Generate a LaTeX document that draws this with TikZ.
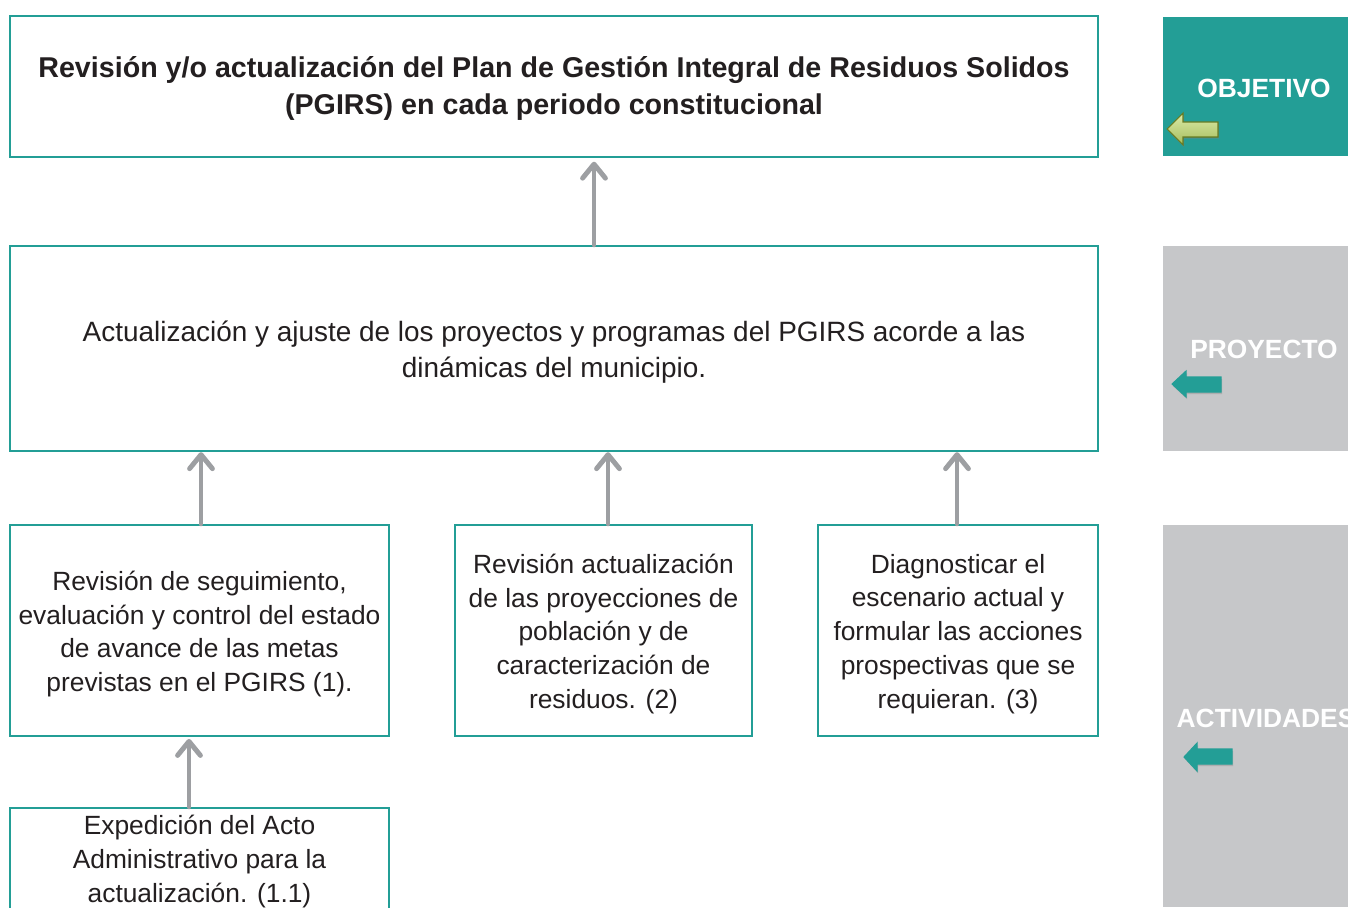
\documentclass[tikz,border=0pt]{standalone}
\usepackage{fontspec}
\setmainfont{Liberation Sans}
\usetikzlibrary{arrows.meta,shadows}
\definecolor{teal1}{RGB}{35,158,150}
\definecolor{panelgray}{RGB}{198,199,201}
\definecolor{arrgray}{RGB}{157,159,162}
\definecolor{txt}{RGB}{35,31,32}
\definecolor{lgreen}{RGB}{196,222,110}
\definecolor{dgreen}{RGB}{105,125,35}
\tikzset{
  box/.style={draw=teal1, line width=1.3pt, fill=white, inner sep=0pt},
  btext/.style={align=center, text=txt, inner sep=0pt, font=\fontsize{15}{19.3}\selectfont},
  upar/.style={draw=arrgray, line width=2.8pt, line cap=round, line join=round,
    -{Straight Barb[length=8pt,width=13pt,line width=2.8pt,round]}},
  ptext/.style={text=white, font=\bfseries\fontsize{15}{18}\selectfont, inner sep=0pt},
  blockarr/.style={line width=0.6pt, drop shadow={shadow xshift=0.6pt, shadow yshift=-1.2pt, opacity=0.35}},
}
\begin{document}
\begin{tikzpicture}[x=0.02cm,y=-0.02cm]
\useasboundingbox (0,0) rectangle (1348,907);
% panels
\fill[teal1] (1163,17) rectangle (1348,156);
\fill[panelgray] (1163,246) rectangle (1348,451);
\fill[panelgray] (1163,525) rectangle (1348,907);
\node[ptext] (pobj) at (1264,88) {OBJETIVO};
\node[ptext] (pproy) at (1264,349) {PROYECTO};
\begin{scope}
\clip (1163,525) rectangle (1348,907);
\node[ptext] (pact) at (1266,718) {ACTIVIDADES};
\end{scope}
% block arrows
\filldraw[blockarr, draw=dgreen, top color=lgreen!60!white, bottom color=lgreen!85!black]
  (1167,129) -- (1183,113) -- (1183,122) -- (1218,122) -- (1218,137) -- (1183,137) -- (1183,145) -- cycle;
\filldraw[blockarr, draw=teal1, fill=teal1]
  (1172,384) -- (1186,371) -- (1186,377) -- (1221,377) -- (1221,392) -- (1186,392) -- (1186,397) -- cycle;
\filldraw[blockarr, draw=teal1, fill=teal1]
  (1184,757) -- (1197,743) -- (1197,749) -- (1232,749) -- (1232,764) -- (1197,764) -- (1197,771) -- cycle;
% boxes
\node[box, minimum width=1088*0.02cm, minimum height=141*0.02cm] (obj) at (554,86.5) {};
\node[btext, font=\bfseries\fontsize{16.3}{21.5}\selectfont] (objt) at (554,88.5)
  {Revisión y/o actualización del Plan de Gestión Integral de Residuos Solidos\\(PGIRS) en cada periodo constitucional};
\node[box, minimum width=1088*0.02cm, minimum height=205*0.02cm] (proy) at (554,348.5) {};
\node[btext, font=\fontsize{15.9}{20.4}\selectfont] (proyt) at (554,352.5)
  {Actualización y ajuste de los proyectos y programas del PGIRS acorde a las\\dinámicas del municipio.};
\node[box, minimum width=379*0.02cm, minimum height=211*0.02cm] (a1) at (199.5,630.5) {};
\node[btext] (a1t) at (199.5,634) {Revisión de seguimiento,\\evaluación y control del estado\\de avance de las metas\\previstas en el PGIRS (1).};
\node[box, minimum width=297*0.02cm, minimum height=211*0.02cm] (a2) at (603.5,630.5) {};
\node[btext] (a2t) at (603.5,634) {Revisión actualización\\de las proyecciones de\\población y de\\caracterización de\\residuos. (2)};
\node[box, minimum width=280*0.02cm, minimum height=211*0.02cm] (a3) at (958,630.5) {};
\node[btext] (a3t) at (958,634) {Diagnosticar el\\escenario actual y\\formular las acciones\\prospectivas que se\\requieran. (3)};
\node[box, minimum width=379*0.02cm, minimum height=104*0.02cm] (a4) at (199.5,860) {};
\node[btext] (a4t) at (199.5,861.5) {Expedición del Acto\\Administrativo para la\\actualización. (1.1)};
% connectors
\draw[upar] (proy.north -| 594,0) -- ([yshift=-2pt]obj.south -| 594,0);
\draw[upar] (a1.north -| 201,0) -- ([yshift=0pt]proy.south -| 201,0);
\draw[upar] (a2.north -| 608,0) -- ([yshift=0pt]proy.south -| 608,0);
\draw[upar] (a3.north -| 957,0) -- ([yshift=0pt]proy.south -| 957,0);
\draw[upar] (a4.north -| 189,0) -- ([yshift=-1pt]a1.south -| 189,0);
\end{tikzpicture}
\end{document}
